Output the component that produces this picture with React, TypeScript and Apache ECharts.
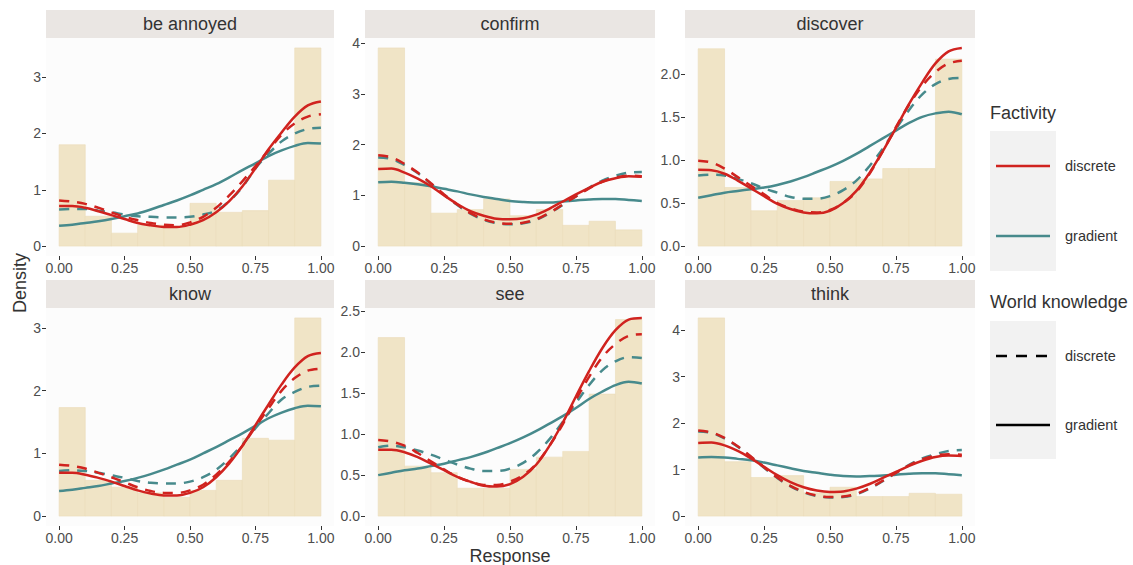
import React, { useEffect, useRef } from "react";
import * as echarts from "echarts";

const FONT = '"Liberation Sans", Arial, Helvetica, sans-serif';

const panelNames = ["be annoyed", "confirm", "discover", "know", "see", "think"];
const binEdges = [0, 0.1, 0.2, 0.3, 0.4, 0.5, 0.6, 0.7, 0.8, 0.9, 1.0];
const xGrid = [0, 0.05, 0.1, 0.15, 0.2, 0.25, 0.3, 0.35, 0.4, 0.45, 0.5, 0.55, 0.6, 0.65, 0.7, 0.75, 0.8, 0.85, 0.9, 0.95, 1.0];
const xTicks = [0, 0.25, 0.5, 0.75, 1.0];

// Histogram densities (10 bins)
const barsBeAnnoyed = [1.80, 0.53, 0.23, 0.37, 0.34, 0.76, 0.60, 0.63, 1.17, 3.52];
const barsConfirm = [3.91, 1.25, 0.65, 0.72, 0.93, 0.60, 0.72, 0.41, 0.49, 0.32];
const barsDiscover = [2.29, 0.68, 0.41, 0.53, 0.56, 0.75, 0.78, 0.90, 0.90, 2.17];
const barsKnow = [1.73, 0.57, 0.46, 0.37, 0.30, 0.41, 0.57, 1.24, 1.21, 3.16];
const barsSee = [2.18, 0.61, 0.53, 0.34, 0.34, 0.57, 0.72, 0.79, 1.49, 2.40];
const barsThink = [4.26, 1.17, 0.83, 0.87, 0.50, 0.62, 0.42, 0.42, 0.49, 0.47];

// Curves: fD/fG = factivity discrete/gradient ; wD/wG = world knowledge discrete/gradient
const beAnnoyed_fD_wG = [0.71, 0.71, 0.68, 0.62, 0.55, 0.48, 0.41, 0.37, 0.34, 0.34, 0.38, 0.46, 0.60, 0.80, 1.06, 1.38, 1.72, 2.02, 2.30, 2.50, 2.57];
const beAnnoyed_fD_wD = [0.81, 0.79, 0.75, 0.68, 0.60, 0.52, 0.46, 0.41, 0.38, 0.37, 0.42, 0.52, 0.68, 0.90, 1.15, 1.42, 1.70, 1.98, 2.18, 2.30, 2.34];
const beAnnoyed_fG_wD = [0.65, 0.66, 0.66, 0.63, 0.60, 0.56, 0.53, 0.52, 0.51, 0.51, 0.52, 0.56, 0.63, 0.80, 1.05, 1.38, 1.64, 1.86, 2.00, 2.08, 2.10];
const beAnnoyed_fG_wG = [0.36, 0.38, 0.41, 0.44, 0.48, 0.53, 0.58, 0.65, 0.73, 0.81, 0.90, 1.00, 1.10, 1.22, 1.35, 1.47, 1.60, 1.70, 1.78, 1.83, 1.82];

const confirm_fD_wG = [1.52, 1.53, 1.45, 1.33, 1.18, 1.00, 0.83, 0.69, 0.60, 0.54, 0.53, 0.55, 0.62, 0.74, 0.88, 1.02, 1.15, 1.27, 1.34, 1.38, 1.37];
const confirm_fD_wD = [1.79, 1.75, 1.62, 1.45, 1.24, 1.02, 0.82, 0.65, 0.53, 0.46, 0.44, 0.46, 0.53, 0.66, 0.82, 0.98, 1.14, 1.27, 1.35, 1.39, 1.38];
const confirm_fG_wD = [1.75, 1.72, 1.60, 1.44, 1.23, 1.01, 0.81, 0.64, 0.52, 0.45, 0.43, 0.45, 0.52, 0.65, 0.81, 0.98, 1.15, 1.29, 1.39, 1.45, 1.46];
const confirm_fG_wG = [1.26, 1.27, 1.25, 1.22, 1.18, 1.13, 1.08, 1.02, 0.97, 0.93, 0.89, 0.87, 0.86, 0.86, 0.88, 0.90, 0.92, 0.93, 0.93, 0.91, 0.89];

const discover_fD_wG = [0.885, 0.88, 0.84, 0.76, 0.67, 0.58, 0.49, 0.43, 0.39, 0.38, 0.41, 0.50, 0.64, 0.85, 1.10, 1.37, 1.65, 1.90, 2.12, 2.26, 2.30];
const discover_fD_wD = [0.99, 0.97, 0.90, 0.80, 0.70, 0.60, 0.50, 0.44, 0.40, 0.39, 0.42, 0.50, 0.63, 0.84, 1.10, 1.38, 1.64, 1.86, 2.02, 2.12, 2.15];
const discover_fG_wD = [0.82, 0.83, 0.82, 0.78, 0.73, 0.67, 0.62, 0.57, 0.55, 0.55, 0.58, 0.65, 0.76, 0.93, 1.13, 1.36, 1.58, 1.76, 1.88, 1.94, 1.95];
const discover_fG_wG = [0.56, 0.59, 0.62, 0.64, 0.66, 0.68, 0.71, 0.75, 0.80, 0.86, 0.92, 0.99, 1.07, 1.16, 1.25, 1.34, 1.43, 1.50, 1.54, 1.56, 1.53];

const know_fD_wG = [0.69, 0.69, 0.66, 0.61, 0.55, 0.48, 0.41, 0.36, 0.33, 0.33, 0.37, 0.46, 0.62, 0.84, 1.12, 1.45, 1.78, 2.10, 2.37, 2.55, 2.60];
const know_fD_wD = [0.82, 0.80, 0.76, 0.69, 0.62, 0.54, 0.46, 0.40, 0.37, 0.37, 0.41, 0.50, 0.66, 0.87, 1.12, 1.42, 1.72, 2.00, 2.20, 2.32, 2.35];
const know_fG_wD = [0.72, 0.73, 0.72, 0.69, 0.65, 0.61, 0.56, 0.53, 0.52, 0.52, 0.55, 0.62, 0.74, 0.92, 1.14, 1.40, 1.64, 1.86, 1.98, 2.06, 2.08];
const know_fG_wG = [0.40, 0.42, 0.45, 0.48, 0.52, 0.56, 0.61, 0.67, 0.74, 0.82, 0.90, 1.00, 1.10, 1.21, 1.32, 1.44, 1.56, 1.65, 1.72, 1.76, 1.75];

const see_fD_wG = [0.81, 0.81, 0.78, 0.72, 0.64, 0.56, 0.48, 0.42, 0.37, 0.36, 0.39, 0.48, 0.63, 0.86, 1.14, 1.46, 1.77, 2.05, 2.27, 2.40, 2.42];
const see_fD_wD = [0.93, 0.91, 0.86, 0.77, 0.67, 0.57, 0.48, 0.42, 0.38, 0.38, 0.42, 0.50, 0.64, 0.86, 1.12, 1.42, 1.70, 1.94, 2.10, 2.20, 2.22];
const see_fG_wD = [0.84, 0.86, 0.84, 0.80, 0.75, 0.69, 0.63, 0.58, 0.55, 0.55, 0.58, 0.65, 0.77, 0.94, 1.15, 1.38, 1.60, 1.78, 1.89, 1.94, 1.93];
const see_fG_wG = [0.50, 0.53, 0.56, 0.58, 0.61, 0.64, 0.68, 0.72, 0.77, 0.83, 0.89, 0.96, 1.04, 1.13, 1.22, 1.32, 1.43, 1.52, 1.60, 1.64, 1.62];

const think_fD_wG = [1.57, 1.58, 1.52, 1.40, 1.24, 1.06, 0.88, 0.73, 0.62, 0.55, 0.52, 0.53, 0.59, 0.69, 0.82, 0.95, 1.08, 1.19, 1.27, 1.30, 1.29];
const think_fD_wD = [1.84, 1.80, 1.68, 1.50, 1.28, 1.05, 0.83, 0.65, 0.52, 0.44, 0.41, 0.42, 0.48, 0.60, 0.76, 0.93, 1.09, 1.22, 1.30, 1.33, 1.32];
const think_fG_wD = [1.82, 1.79, 1.67, 1.49, 1.27, 1.04, 0.82, 0.64, 0.51, 0.43, 0.40, 0.41, 0.47, 0.59, 0.75, 0.93, 1.10, 1.24, 1.33, 1.40, 1.42];
const think_fG_wG = [1.26, 1.27, 1.26, 1.23, 1.20, 1.15, 1.09, 1.03, 0.97, 0.93, 0.89, 0.86, 0.85, 0.86, 0.87, 0.89, 0.91, 0.92, 0.92, 0.90, 0.88];

const yTicksBeAnnoyed = [0, 1, 2, 3];
const yTicksConfirm = [0, 1, 2, 3, 4];
const yTicksDiscover = [0, 0.5, 1.0, 1.5, 2.0];
const yTicksKnow = [0, 1, 2, 3];
const yTicksSee = [0, 0.5, 1.0, 1.5, 2.0, 2.5];
const yTicksThink = [0, 1, 2, 3, 4];

const panelBars = [barsBeAnnoyed, barsConfirm, barsDiscover, barsKnow, barsSee, barsThink];
const panelCurves = [
  [beAnnoyed_fG_wG, beAnnoyed_fG_wD, beAnnoyed_fD_wG, beAnnoyed_fD_wD],
  [confirm_fG_wG, confirm_fG_wD, confirm_fD_wG, confirm_fD_wD],
  [discover_fG_wG, discover_fG_wD, discover_fD_wG, discover_fD_wD],
  [know_fG_wG, know_fG_wD, know_fD_wG, know_fD_wD],
  [see_fG_wG, see_fG_wD, see_fD_wG, see_fD_wD],
  [think_fG_wG, think_fG_wD, think_fD_wG, think_fD_wD],
];
const panelYTicks = [yTicksBeAnnoyed, yTicksConfirm, yTicksDiscover, yTicksKnow, yTicksSee, yTicksThink];
const panelYDecimals = [0, 0, 1, 0, 1, 0];

const RED = "#D0231F";
const TEAL = "#478A8C";
const BAR = "#F0E4C6";
const DASH = [10, 8];

const colLefts = [46, 365, 685];
const colWidths = [288, 290, 290];
const rowTops = [38, 308];
const plotH = 218;
const stripH = 28;

export default function App() {
  const ref = useRef<HTMLDivElement>(null);
  useEffect(() => {
    const chart = echarts.init(ref.current!, null, { renderer: "svg" });
    const grids: any[] = [];
    const xAxes: any[] = [];
    const yAxes: any[] = [];
    const series: any[] = [];
    const graphics: any[] = [];

    panelNames.forEach((name, i) => {
      const col = i % 3;
      const row = Math.floor(i / 3);
      const left = colLefts[col];
      const top = rowTops[row];
      const width = colWidths[col];
      grids.push({ left, top, width, height: plotH, show: true, backgroundColor: "#FCFCFC", borderWidth: 0, containLabel: false });
      const bars = panelBars[i];
      const curves = panelCurves[i];
      let maxV = Math.max(...bars);
      curves.forEach((c) => (maxV = Math.max(maxV, ...c)));
      const dec = panelYDecimals[i];
      xAxes.push({
        type: "value", gridIndex: i, min: -0.05, max: 1.05,
        axisLine: { show: false, onZero: false },
        axisTick: { show: true, customValues: xTicks, length: 4, lineStyle: { color: "#333", width: 1 } },
        axisLabel: { customValues: xTicks, formatter: (v: number) => v.toFixed(2), color: "#4D4D4D", fontSize: 14, fontFamily: FONT, margin: 5 },
        splitLine: { show: false },
      });
      yAxes.push({
        type: "value", gridIndex: i, min: -0.05 * maxV, max: 1.05 * maxV,
        axisLine: { show: false, onZero: false },
        axisTick: { show: true, customValues: panelYTicks[i], length: 4, lineStyle: { color: "#333", width: 1 } },
        axisLabel: { customValues: panelYTicks[i], formatter: (v: number) => v.toFixed(dec), color: "#4D4D4D", fontSize: 14, fontFamily: FONT, margin: 5 },
        splitLine: { show: false },
      });
      series.push({
        type: "custom", xAxisIndex: i, yAxisIndex: i,
        data: bars.map((h, k) => [binEdges[k], binEdges[k + 1], h]),
        encode: { x: [0, 1], y: 2 },
        renderItem: (params: any, api: any) => {
          const p0 = api.coord([api.value(0), api.value(2)]);
          const p1 = api.coord([api.value(1), 0]);
          return {
            type: "rect",
            shape: { x: p0[0], y: p0[1], width: p1[0] - p0[0], height: p1[1] - p0[1] },
            style: { fill: BAR, stroke: "#EBDCB8", lineWidth: 0.6 },
          };
        },
      });
      const styles = [
        { color: TEAL, type: "solid" },
        { color: TEAL, type: DASH },
        { color: RED, type: "solid" },
        { color: RED, type: DASH },
      ];
      curves.forEach((c, k) => {
        series.push({
          type: "line", xAxisIndex: i, yAxisIndex: i,
          data: xGrid.map((x, j) => [x, c[j]]),
          smooth: 0.35, showSymbol: false, silent: true,
          lineStyle: { color: styles[k].color, width: 2.5, type: styles[k].type },
        });
      });
      graphics.push({ type: "rect", shape: { x: left, y: top - stripH, width, height: stripH }, style: { fill: "#EAE6E3" } });
      graphics.push({ type: "text", x: left + width / 2, y: top - stripH / 2, style: { text: name, fill: "#333333", font: `18px ${FONT}`, align: "center", verticalAlign: "middle" } });
    });

    graphics.push({ type: "text", x: 510, y: 556, style: { text: "Response", fill: "#333333", font: `18px ${FONT}`, align: "center", verticalAlign: "middle" } });
    graphics.push({ type: "text", x: 20, y: 283, rotation: Math.PI / 2, style: { text: "Density", fill: "#333333", font: `18px ${FONT}`, align: "center", verticalAlign: "middle" } });

    // Legend
    const lgX = 990;
    graphics.push({ type: "text", x: lgX, y: 113, style: { text: "Factivity", fill: "#333333", font: `18px ${FONT}`, align: "left", verticalAlign: "middle" } });
    graphics.push({ type: "rect", shape: { x: lgX, y: 131, width: 66, height: 140 }, style: { fill: "#F2F2F2" } });
    graphics.push({ type: "line", shape: { x1: 996, y1: 166, x2: 1050, y2: 166 }, style: { stroke: RED, lineWidth: 2.5 } });
    graphics.push({ type: "text", x: 1065, y: 166, style: { text: "discrete", fill: "#333333", font: `14.5px ${FONT}`, align: "left", verticalAlign: "middle" } });
    graphics.push({ type: "line", shape: { x1: 996, y1: 236, x2: 1050, y2: 236 }, style: { stroke: TEAL, lineWidth: 2.5 } });
    graphics.push({ type: "text", x: 1065, y: 236, style: { text: "gradient", fill: "#333333", font: `14.5px ${FONT}`, align: "left", verticalAlign: "middle" } });
    graphics.push({ type: "text", x: lgX, y: 302, style: { text: "World knowledge", fill: "#333333", font: `18px ${FONT}`, align: "left", verticalAlign: "middle" } });
    graphics.push({ type: "rect", shape: { x: lgX, y: 321, width: 66, height: 138 }, style: { fill: "#F2F2F2" } });
    graphics.push({ type: "line", shape: { x1: 996, y1: 356, x2: 1050, y2: 356 }, style: { stroke: "#000", lineWidth: 2.5, lineDash: [11, 9] } });
    graphics.push({ type: "text", x: 1065, y: 356, style: { text: "discrete", fill: "#333333", font: `14.5px ${FONT}`, align: "left", verticalAlign: "middle" } });
    graphics.push({ type: "line", shape: { x1: 996, y1: 425, x2: 1050, y2: 425 }, style: { stroke: "#000", lineWidth: 2.5 } });
    graphics.push({ type: "text", x: 1065, y: 425, style: { text: "gradient", fill: "#333333", font: `14.5px ${FONT}`, align: "left", verticalAlign: "middle" } });

    chart.setOption({
      animation: false,
      backgroundColor: "#FFFFFF",
      grid: grids,
      xAxis: xAxes,
      yAxis: yAxes,
      series,
      graphic: graphics,
    });
    return () => chart.dispose();
  }, []);
  return <div ref={ref} style={{ position: "fixed", left: 0, top: 0, width: 1133, height: 565 }} />;
}
